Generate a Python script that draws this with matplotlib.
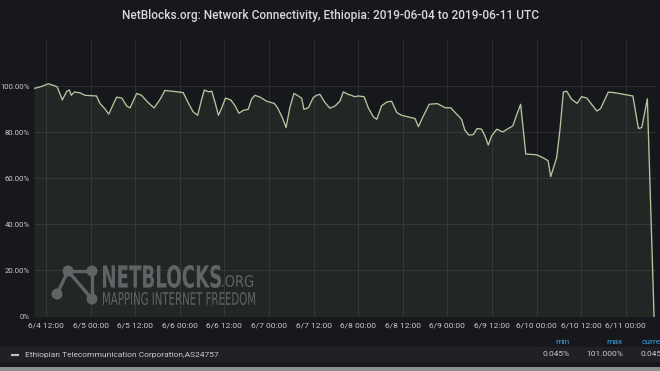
import matplotlib.pyplot as plt
from matplotlib.textpath import TextPath
from matplotlib.font_manager import FontProperties
from matplotlib.patches import PathPatch, Circle, Rectangle
from matplotlib.transforms import Affine2D

plt.rcParams['font.family'] = ['Roboto', 'DejaVu Sans']

# hours since 2019-06-04 00:00 UTC, connectivity in %
hours = [8.8, 10.4, 12.6, 14.0, 15.0, 16.4, 17.6, 18.3, 18.8, 19.6, 21.1, 22.5,
         25.6, 26.5, 27.9, 28.9, 29.9, 31.0, 32.4, 33.7, 34.6, 36.4, 37.7, 39.5,
         41.1, 42.7, 44.0, 46.3, 48.9, 50.7, 51.6, 52.8, 53.9, 54.6, 55.7, 56.6,
         57.5, 58.4, 59.3, 60.3, 61.7, 62.9, 63.9, 65.1, 66.4, 67.3, 68.2, 69.6,
         71.4, 73.4, 74.3, 75.6, 76.6, 77.6, 78.7, 79.6, 80.8, 81.4, 82.6, 83.9,
         84.8, 85.7, 87.1, 88.4, 89.8, 91.1, 92.0, 92.9, 95.1, 96.0, 97.6, 98.7,
         100.1, 101.0, 102.3, 103.7, 105.0, 106.4, 107.7, 109.5, 111.3, 112.2,
         113.1, 115.1, 117.3, 119.4, 120.9, 122.5, 123.8, 124.7, 125.8, 127.0,
         128.0, 129.2, 130.1, 131.0, 131.9, 133.3, 134.9, 136.4, 137.6, 138.6,
         139.7, 141.1, 144.0, 145.6, 147.1, 147.8, 149.4, 150.3, 151.2, 152.1,
         153.4, 154.9, 156.1, 157.5, 160.2, 161.2, 163.3, 165.1, 169.9, 171.4,
         172.3, 173.8, 175.6]
conn = [99.0, 99.6, 101.0, 100.3, 99.7, 94.0, 97.8, 98.3, 96.0, 97.4, 97.1, 96.0,
        95.7, 92.5, 90.0, 87.8, 91.4, 95.2, 94.8, 91.4, 90.5, 96.8, 96.0, 92.8,
        90.5, 94.3, 98.1, 97.7, 97.2, 91.4, 88.8, 87.3, 94.3, 98.3, 97.5, 97.8,
        92.8, 87.3, 90.6, 94.8, 94.0, 91.4, 88.2, 89.5, 89.9, 94.3, 96.0, 95.2,
        93.4, 92.5, 90.6, 86.3, 82.0, 90.6, 96.8, 96.0, 94.7, 89.9, 90.6, 95.0,
        96.0, 96.4, 92.8, 90.4, 91.4, 93.5, 97.5, 96.7, 95.4, 95.7, 95.4, 90.6,
        86.6, 85.6, 91.4, 93.1, 93.4, 88.5, 87.3, 86.6, 85.9, 82.4, 85.6, 92.1,
        92.4, 90.6, 90.6, 87.8, 85.6, 80.9, 78.7, 79.0, 81.6, 81.3, 78.4, 74.4,
        78.4, 81.3, 80.1, 81.6, 82.7, 87.3, 92.1, 70.5, 70.2, 69.0, 67.6, 60.7,
        69.0, 81.3, 97.4, 97.8, 94.3, 92.5, 95.4, 94.8, 89.2, 90.2, 97.4, 97.1,
        95.7, 81.6, 82.0, 94.5, 0.045]

tick_hours = list(range(12, 169, 12))
tick_labels = ['6/%d %02d:00' % (4 + h // 24, h % 24) for h in tick_hours]
y_ticks = [0, 20, 40, 60, 80, 100]
y_labels = ['0%', '20.00%', '40.00%', '60.00%', '80.00%', '100.00%']

title = 'NetBlocks.org: Network Connectivity, Ethiopia: 2019-06-04 to 2019-06-11 UTC'
series = 'Ethiopian Telecommunication Corporation,AS24757'
stat_names = ['min', 'max', 'current']
stat_vals = ['0.045%', '101.000%', '0.045%']

bg = '#17181c'
txt = '#c8c9cb'
line_c = '#b4c69e'

W, H = 660, 371
fig = plt.figure(figsize=(W / 100, H / 100), dpi=100, facecolor=bg)

# main axes in pixel layout
left, right, top, bottom = 34, 656, 40, 316.5
ax = fig.add_axes([left / W, (H - bottom) / H, (right - left) / W, (bottom - top) / H])
ax.set_facecolor(bg)
x0 = 12 - (46 - left) * 12 / 44.6
x1 = 12 + (right - 46) * 12 / 44.6
ax.set_xlim(x0, x1)
ax.set_ylim(0, 120)

ax.plot(hours, conn, color=line_c, lw=0.95, zorder=3)
ax.fill_between(hours, conn, 0, color='#7eb26d', alpha=0.1, lw=0, zorder=2)

ax.set_xticks(tick_hours)
ax.set_xticklabels(tick_labels)
ax.set_yticks(y_ticks)
ax.set_yticklabels(y_labels)
ax.tick_params(axis='x', colors=txt, labelsize=6, length=0, pad=4)
ax.tick_params(axis='y', colors=txt, labelsize=5.6, length=0, pad=3)
ax.grid(True, color='#2c2d31', lw=0.7, zorder=0)
for s in ax.spines.values():
    s.set_visible(False)

# overlay in pixel coordinates for title, legend and watermark
ov = fig.add_axes([0, 0, 1, 1], zorder=5)
ov.set_xlim(0, W)
ov.set_ylim(H, 0)
ov.axis('off')

ov.text(330, 16, title, color='#d8d9da', fontsize=8.6, fontweight='medium',
        ha='center', va='center')

# watermark
wm = '#616466'
nodes = [(68, 271), (92, 271), (57, 294), (92, 299)]
for a, b in [(0, 1), (0, 2), (0, 3), (1, 3)]:
    ov.plot([nodes[a][0], nodes[b][0]], [nodes[a][1], nodes[b][1]],
            color=wm, lw=2.4, solid_capstyle='round')
for (cx, cy) in nodes:
    ov.add_patch(Circle((cx, cy), 5.5, color=wm, lw=0))


def squeeze(s, bx0, by0, bx1, by1, weight='bold'):
    tp = TextPath((0, 0), s, size=20, prop=FontProperties(family='DejaVu Sans', weight=weight))
    e = tp.get_extents()
    sx = (bx1 - bx0) / e.width
    sy = (by1 - by0) / e.height
    tr = Affine2D().scale(sx, -sy).translate(bx0 - e.x0 * sx, by1 + e.y0 * sy) + ov.transData
    ov.add_patch(PathPatch(tp, transform=tr, color=wm, lw=0))


squeeze('NETBLOCKS', 103, 265, 221, 288)
squeeze('.ORG', 222, 275, 253, 287, weight='normal')
squeeze('MAPPING INTERNET FREEDOM', 103, 292, 255, 305, weight='normal')

# legend table
ov.add_patch(Rectangle((0, 347), W, 15, color='#202125', lw=0))
ov.add_patch(Rectangle((0, 367), W, 4, color='#8e8f91', lw=0))
ov.plot([12, 18], [354.5, 354.5], color='#bfc0c2', lw=1.5)
ov.text(25, 354.5, series, color=txt, fontsize=6, va='center', ha='left')
for xr, name, val in zip([570, 623, 668], stat_names, stat_vals):
    ov.text(xr, 341.5, name, color='#33a2e5', fontsize=6, va='center', ha='right')
    ov.text(xr, 354.5, val, color=txt, fontsize=6, va='center', ha='right')

fig.savefig('out.png', dpi=100, facecolor=bg)
